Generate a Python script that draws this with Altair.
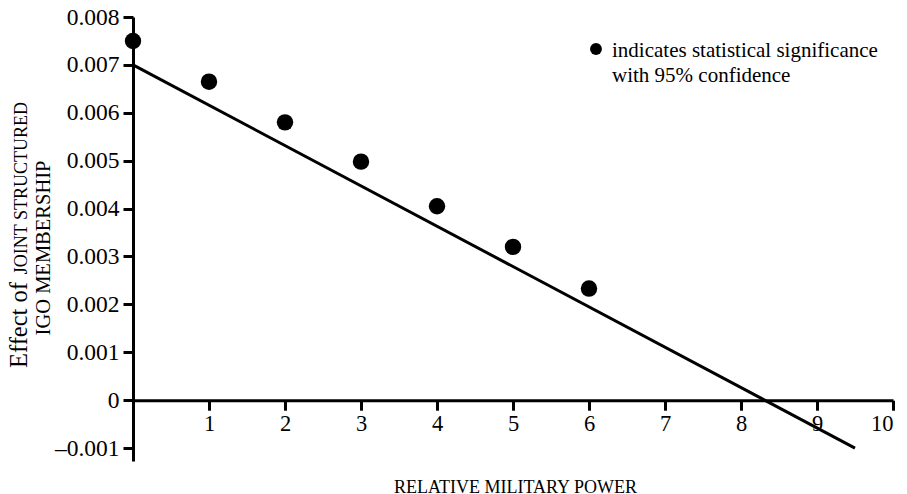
import altair as alt
import pandas as pd

# Data
power = [0, 1, 2, 3, 4, 5, 6]
effect = [0.0075, 0.00665, 0.0058, 0.00498, 0.00405, 0.0032, 0.00233]
fit_x = [0, 9.5]
fit_y = [0.007, -0.001]
x_ticks = [1, 2, 3, 4, 5, 6, 7, 8, 9, 10]
y_ticks = [-0.001, 0, 0.001, 0.002, 0.003, 0.004, 0.005, 0.006, 0.007, 0.008]

FONT = "Liberation Serif, Times New Roman, serif"

pts = pd.DataFrame({"power": power, "effect": effect})
fit = pd.DataFrame({"power": fit_x, "effect": fit_y})
one = pd.DataFrame({"a": [0]})

xscale = alt.Scale(domain=[0, 10], nice=False, zero=False)
yscale = alt.Scale(domain=[-0.00127, 0.008], nice=False, zero=False)

y_label_expr = ("datum.value == 0 ? '0' : (datum.value < 0 ? '\u2013' + format(-datum.value, '.3f') "
                ": format(datum.value, '.3f'))")

x_enc = alt.X("power:Q", scale=xscale, axis=alt.Axis(
    values=x_ticks, format="d", title="RELATIVE MILITARY POWER", offset=-60.8,
    labelFontSize=22.5, labelPadding=2, tickSize=10, titleFontSize=18,
    titleFontWeight="normal", titleBaseline="alphabetic", titleY=92, titleX=382,
    titleFont=FONT, labelFont=FONT))
y_enc = alt.Y("effect:Q", scale=yscale, axis=alt.Axis(
    values=y_ticks, labelExpr=y_label_expr, title=None, labelFontSize=23.5,
    labelPadding=4, tickSize=10, labelFont=FONT))

line = alt.Chart(fit).mark_line(color="black", strokeWidth=3).encode(x=x_enc, y=y_enc)
dots = alt.Chart(pts).mark_circle(color="black", size=270, opacity=1).encode(x="power:Q", y="effect:Q")

def txt(s, x, y, size, align="left", angle=0):
    kw = dict(font=FONT, fontSize=size, align=align, baseline="alphabetic", color="black")
    if angle:
        kw["angle"] = angle
    return alt.Chart(one).mark_text(**kw).encode(x=alt.value(x), y=alt.value(y), text=alt.value(s))

ytitle1 = txt("Effect of", -106, 351, 24.5, "left", 270)
ytitle2 = txt("JOINT STRUCTURED", -106, 85, 18, "right", 270)
ytitle3 = txt("IGO MEMBERSHIP", -83, 231, 20.5, "center", 270)

leg_dot = alt.Chart(one).mark_circle(color="black", size=140, opacity=1).encode(
    x=alt.value(463), y=alt.value(32))
leg1 = txt("indicates statistical significance", 479, 40, 21)
leg2 = txt("with 95% confidence", 479, 65, 21)

chart = alt.layer(line, dots, ytitle1, ytitle2, ytitle3, leg_dot, leg1, leg2).properties(
    width=760, height=444,
    autosize=alt.AutoSizeParams(type="none"),
    padding={"left": 125, "top": 9, "right": 6, "bottom": 33},
).configure_view(stroke=None).configure_axis(
    grid=False, domainColor="black", domainWidth=3, tickColor="black", tickWidth=3,
    labelColor="black", titleColor="black", labelFont=FONT, titleFont=FONT,
)

chart.save("out.html", embed_options={"renderer": "svg", "actions": False})
